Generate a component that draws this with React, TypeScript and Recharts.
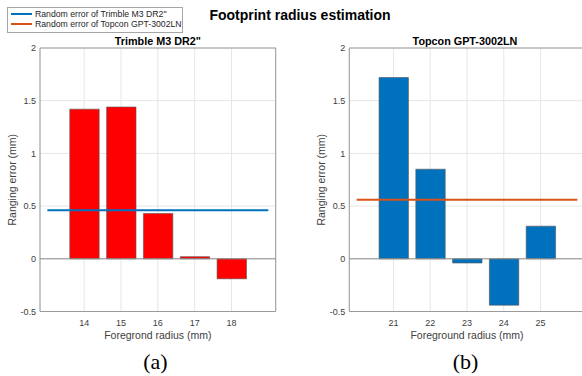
import {
  Bar,
  CartesianGrid,
  ComposedChart,
  Label,
  ReferenceArea,
  ReferenceLine,
  XAxis,
  YAxis,
} from "recharts"

// panel (a)
const trimbleRadius = [14, 15, 16, 17, 18]
const trimbleError = [1.42, 1.44, 0.43, 0.02, -0.19]
const trimbleRandom = 0.46
const trimbleLineX = [13, 19]
const trimbleDomain = [12.8, 19.2]

// panel (b)
const topconRadius = [21, 22, 23, 24, 25]
const topconError = [1.72, 0.85, -0.04, -0.44, 0.31]
const topconRandom = 0.56
const topconLineX = [20, 26]
const topconDomain = [19.8, 26.2]

const yTicks = [-0.5, 0, 0.5, 1, 1.5, 2]
const yDomain = [-0.5, 2]

const legendItems = [
  { name: 'Random error of Trimble M3 DR2"', color: "#0072BD" },
  { name: "Random error of Topcon GPT-3002LN", color: "#D95319" },
]

const FONT = "'Liberation Sans', Arial, sans-serif"
const TEXT = "#404040"

interface PanelProps {
  left: number
  width: number
  marginLeft: number
  marginRight: number
  radius: number[]
  error: number[]
  domain: number[]
  fill: string
  lineX: number[]
  lineY: number
  lineColor: string
  xLabel: string
}

function Panel({
  left,
  width,
  marginLeft,
  marginRight,
  radius,
  error,
  domain,
  fill,
  lineX,
  lineY,
  lineColor,
  xLabel,
}: PanelProps) {
  // note: don't call the key "radius", Bar passes it to the rect as corner radius
  const data = radius.map((r, i) => ({ fg: r, err: error[i] }))
  return (
    <div style={{ position: "absolute", left, top: 0 }}>
      <ComposedChart
        width={width}
        height={376}
        data={data}
        margin={{ top: 48, right: marginRight, left: marginLeft, bottom: 0 }}
        style={{ fontFamily: FONT }}
      >
        <CartesianGrid stroke="#e6e6e6" />
        <XAxis
          dataKey="fg"
          type="number"
          domain={domain}
          ticks={radius}
          interval={0}
          allowDataOverflow
          height={64.5}
          axisLine={false}
          tickLine={false}
          tick={{ fontSize: 9, fill: TEXT }}
        >
          <Label
            value={xLabel}
            position="insideTop"
            offset={20.5}
            style={{ fontSize: 10.5, fill: TEXT }}
          />
        </XAxis>
        <YAxis
          type="number"
          domain={yDomain}
          ticks={yTicks}
          width={40}
          axisLine={false}
          tickLine={false}
          tickSize={2}
          tickMargin={2}
          tick={{ fontSize: 9, fill: TEXT }}
        >
          <Label
            value="Ranging error (mm)"
            angle={-90}
            position="insideLeft"
            offset={12}
            style={{ fontSize: 10.5, fill: TEXT, textAnchor: "middle" }}
          />
        </YAxis>
        <Bar
          dataKey="err"
          fill={fill}
          barSize={29.4}
          stroke="#555"
          strokeWidth={0.6}
          isAnimationActive={false}
        />
        <ReferenceLine y={0} stroke="#8c8c8c" strokeWidth={1} />
        <ReferenceLine
          segment={[
            { x: lineX[0], y: lineY },
            { x: lineX[1], y: lineY },
          ]}
          stroke={lineColor}
          strokeWidth={2}
        />
        <ReferenceArea
          x1={domain[0]}
          x2={domain[1]}
          y1={yDomain[0]}
          y2={yDomain[1]}
          fill="none"
          fillOpacity={0}
          stroke="#9a9a9a"
          strokeWidth={1}
          ifOverflow="visible"
        />
      </ComposedChart>
    </div>
  )
}

export default function App() {
  return (
    <div
      style={{
        position: "absolute",
        left: 0,
        top: 0,
        width: 582,
        height: 376,
        overflow: "hidden",
        background: "#fff",
        fontFamily: FONT,
      }}
    >
      <Panel
        left={0}
        width={290}
        marginLeft={0}
        marginRight={14.3}
        radius={trimbleRadius}
        error={trimbleError}
        domain={trimbleDomain}
        fill="#FF0000"
        lineX={trimbleLineX}
        lineY={trimbleRandom}
        lineColor={legendItems[0].color}
        xLabel="Foregrond radius (mm)"
      />
      <Panel
        left={290}
        width={300}
        marginLeft={19.3}
        marginRight={5.3}
        radius={topconRadius}
        error={topconError}
        domain={topconDomain}
        fill="#0072BD"
        lineX={topconLineX}
        lineY={topconRandom}
        lineColor={legendItems[1].color}
        xLabel="Foreground radius (mm)"
      />
      <svg
        width={582}
        height={376}
        style={{ position: "absolute", left: 0, top: 0, pointerEvents: "none" }}
      >
        <rect x={7.5} y={7.5} width={175} height={25} fill="#fff" stroke="#a6a6a6" />
        {legendItems.map((item, i) => (
          <g key={item.name}>
            <line x1={11} x2={32} y1={14 + i * 10} y2={14 + i * 10} stroke={item.color} strokeWidth={2} />
            <text x={35} y={17.2 + i * 10} fontSize={8.7} fill="#262626" fontFamily={FONT}>
              {item.name}
            </text>
          </g>
        ))}
        <text x={300} y={20} textAnchor="middle" fontSize={14} fontWeight="bold" fill="#000" fontFamily={FONT}>
          Footprint radius estimation
        </text>
        <text x={157.8} y={45} textAnchor="middle" fontSize={10.8} fontWeight="bold" fill="#000" fontFamily={FONT}>
          Trimble M3 DR2"
        </text>
        <text x={465} y={45} textAnchor="middle" fontSize={10.8} fontWeight="bold" fill="#000" fontFamily={FONT}>
          Topcon GPT-3002LN
        </text>
        <text x={155.5} y={369} textAnchor="middle" fontSize={22} fill="#000" fontFamily="'Liberation Serif', 'Times New Roman', serif">
          (a)
        </text>
        <text x={465.5} y={369} textAnchor="middle" fontSize={22} fill="#000" fontFamily="'Liberation Serif', 'Times New Roman', serif">
          (b)
        </text>
      </svg>
    </div>
  )
}
